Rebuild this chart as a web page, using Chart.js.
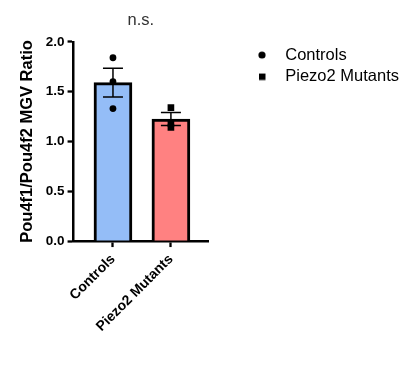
<!DOCTYPE html>
<html>
<head>
<meta charset="utf-8">
<script src="https://cdn.jsdelivr.net/npm/chart.js@4"></script>
<style>
  html, body { margin: 0; padding: 0; background: #ffffff; }
  #wrap { width: 415px; height: 381px; }
</style>
</head>
<body>
<div id="wrap"><canvas id="c" width="415" height="381"></canvas></div>
<script>
// ---- data ----
const categories = ['Controls', 'Piezo2 Mutants'];
const barMeans = [1.59, 1.225];
const barSEM = [0.145, 0.065];
const controlsPoints = [1.84, 1.60, 1.33];
const mutantsPoints = [1.34, 1.18, 1.14];
const yTickValues = [0, 0.5, 1.0, 1.5, 2.0];
const significanceLabel = 'n.s.';
const yAxisTitle = 'Pou4f1/Pou4f2 MGV Ratio';

const FONT = "'Liberation Sans', Arial, Helvetica, sans-serif";
Chart.defaults.font.family = FONT;
Chart.defaults.color = '#000';

// small legend marker images
function marker(kind) {
  const cv = document.createElement('canvas');
  cv.width = 10; cv.height = 10;
  const g = cv.getContext('2d');
  g.fillStyle = '#000';
  if (kind === 'circle') { g.beginPath(); g.arc(5, 5, 3.6, 0, Math.PI * 2); g.fill(); }
  else { g.fillRect(2, 2, 6.5, 6.5); }
  return cv;
}
const legendMarkers = { Controls: marker('circle'), 'Piezo2 Mutants': marker('rect') };

// error bar table built from means and SEM
const errData = [];
barMeans.forEach((m, i) => {
  errData.push({ x: i, y: m - barSEM[i] });
  errData.push({ x: i, y: m + barSEM[i] });
  if (i < barMeans.length - 1) errData.push({ x: i + 0.5, y: null });
});

const legendPlacement = {
  id: 'legendPlacement',
  beforeLayout(chart) {
    const lg = chart.legend;
    if (lg && !lg._wrappedFit) {
      const orig = lg.fit;
      lg.fit = function () { orig.call(this); this.width = 207; };
      lg._wrappedFit = true;
    }
  },
  afterLayout(chart) {
    const lg = chart.legend;
    if (lg) { lg.left += 34; lg.right += 34; lg.top += 0; lg.bottom += 0; }
  }
};

new Chart(document.getElementById('c'), {
  data: {
    datasets: [
      {
        type: 'bar',
        label: 'bars',
        data: barMeans.map((v, i) => ({ x: i, y: v })),
        backgroundColor: ['#94bdf7', '#ff8181'],
        borderColor: '#000',
        borderWidth: 3,
        barThickness: 38,
        order: 3
      },
      {
        type: 'line',
        label: 'sem',
        data: errData,
        borderColor: '#000',
        borderWidth: 1.5,
        pointStyle: 'line',
        pointRadius: 10,
        pointBorderWidth: 1.5,
        pointBorderColor: '#000',
        spanGaps: false,
        fill: false,
        order: 2
      },
      {
        type: 'scatter',
        label: 'Controls',
        data: controlsPoints.map(v => ({ x: 0, y: v })),
        pointStyle: 'circle',
        pointRadius: 3.4,
        pointBorderWidth: 0,
        backgroundColor: '#000',
        borderColor: '#000',
        order: 1
      },
      {
        type: 'scatter',
        label: 'Piezo2 Mutants',
        data: mutantsPoints.map(v => ({ x: 1, y: v })),
        pointStyle: 'rect',
        pointRadius: 4.7,
        pointBorderWidth: 0,
        backgroundColor: '#000',
        borderColor: '#000',
        order: 1
      }
    ]
  },
  options: {
    responsive: false,
    animation: false,
    devicePixelRatio: 1,
    layout: { padding: { left: 0, right: 0, top: 0, bottom: 42 } },
    scales: {
      x: {
        type: 'linear',
        min: -0.68,
        max: 1.64,
        offset: false,
        afterBuildTicks(scale) { scale.ticks = categories.map((c, i) => ({ value: i })); },
        ticks: {
          autoSkip: false,
          minRotation: 45,
          maxRotation: 45,
          padding: 4,
          font: { size: 14, weight: 'bold' },
          color: '#000',
          callback: (v) => categories[v]
        },
        grid: { display: true, drawOnChartArea: false, offset: false, tickLength: 6, tickWidth: 2.3, tickColor: '#000' },
        border: { display: true, color: '#000', width: 2.5 }
      },
      y: {
        type: 'linear',
        min: 0,
        max: 2,
        afterBuildTicks(scale) { scale.ticks = yTickValues.map(v => ({ value: v })); },
        ticks: {
          padding: 3,
          font: { size: 13.5, weight: 'bold' },
          color: '#000',
          callback: (v) => Number(v).toFixed(1)
        },
        grid: { display: true, drawOnChartArea: false, tickLength: 6, tickWidth: 2.3, tickColor: '#000' },
        border: { display: true, color: '#000', width: 2.5 },
        title: {
          display: true,
          text: yAxisTitle,
          font: { size: 16.5, weight: 'bold' },
          color: '#000',
          padding: { top: 18, bottom: 5 }
        }
      }
    },
    plugins: {
      title: {
        display: true,
        text: significanceLabel,
        fullSize: false,
        color: '#333',
        font: { size: 16.5, weight: 'normal' },
        padding: { top: 11, bottom: 11 }
      },
      legend: {
        display: true,
        position: 'right',
        align: 'start',
        fullSize: false,
        labels: {
          usePointStyle: true,
          pointStyleWidth: 30,
          boxHeight: 8,
          padding: 5,
          color: '#000',
          font: { size: 16.5, weight: 'normal' },
          generateLabels(chart) {
            return chart.data.datasets
              .map((ds, i) => ({ ds, i }))
              .filter(o => o.ds.type === 'scatter')
              .map(o => ({
                text: o.ds.label,
                pointStyle: legendMarkers[o.ds.label],
                fillStyle: '#000',
                strokeStyle: '#000',
                lineWidth: 0,
                hidden: false,
                datasetIndex: o.i
              }));
          }
        }
      },
      tooltip: { enabled: false }
    }
  },
  plugins: [legendPlacement]
});
</script>
</body>
</html>
